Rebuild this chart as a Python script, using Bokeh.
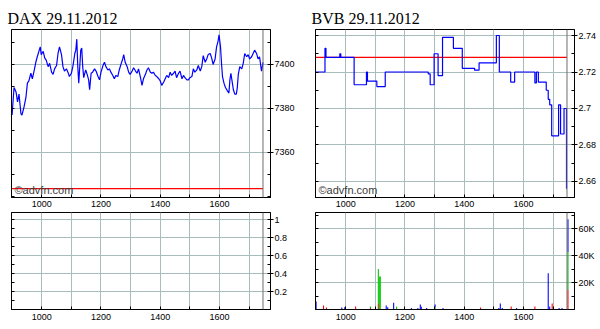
from bokeh.plotting import figure
from bokeh.layouts import column, row
from bokeh.models import (FixedTicker, LinearAxis, Span, Label,
                          CustomJSTickFormatter, Range1d, ColumnDataSource)
from bokeh.embed import file_html
from bokeh.resources import INLINE

# ---------------- data ----------------
dax_title = "DAX 29.11.2012"
bvb_title = "BVB 29.11.2012"

dax_times = ["9:00", "9:02", "9:04", "9:08", "9:11", "9:14", "9:18", "9:20", "9:24", "9:28",
             "9:31", "9:34", "9:38", "9:41", "9:45", "9:48", "9:51", "9:55", "9:57", "9:59",
             "10:03", "10:06", "10:09", "10:13", "10:16", "10:20", "10:23", "10:26", "10:30", "10:33",
             "10:36", "10:40", "10:43", "10:46", "10:50", "10:53", "10:56", "11:00", "11:03", "11:07",
             "11:09", "11:11", "11:13", "11:15", "11:19", "11:21", "11:23", "11:25", "11:29", "11:32",
             "11:35", "11:37", "11:40", "11:43", "11:47", "11:50", "11:54", "11:57", "12:00", "12:04",
             "12:07", "12:10", "12:14", "12:17", "12:20", "12:24", "12:27", "12:30", "12:34", "12:37",
             "12:41", "12:44", "12:46", "12:49", "12:53", "12:56", "12:59", "13:03", "13:06", "13:10",
             "13:13", "13:16", "13:20", "13:23", "13:26", "13:30", "13:33", "13:36", "13:40", "13:43",
             "13:46", "13:50", "13:53", "13:57", "14:00", "14:03", "14:07", "14:10", "14:13", "14:17",
             "14:20", "14:23", "14:27", "14:30", "14:33", "14:37", "14:40", "14:44", "14:47", "14:50",
             "14:54", "14:57", "15:00", "15:04", "15:07", "15:10", "15:14", "15:17", "15:21", "15:24",
             "15:27", "15:31", "15:34", "15:37", "15:41", "15:44", "15:47", "15:51", "15:54", "15:57",
             "15:59", "16:02", "16:04", "16:06", "16:09", "16:12", "16:16", "16:19", "16:21", "16:23",
             "16:26", "16:28", "16:31", "16:34", "16:36", "16:38", "16:41", "16:45", "16:48", "16:51",
             "16:55", "16:58", "17:01", "17:05", "17:08", "17:11", "17:15", "17:18", "17:21", "17:25",
             "17:27", "17:28"]
dax_prices = [7377.0, 7383.5, 7389.5, 7387.5, 7383.0, 7386.5, 7377.5, 7377.0, 7380.5, 7385.0,
              7391.5, 7392.5, 7396.0, 7393.5, 7397.5, 7401.0, 7403.5, 7406.5, 7408.0, 7404.5,
              7406.0, 7403.0, 7402.0, 7399.0, 7400.5, 7396.5, 7395.5, 7398.0, 7399.5, 7405.0,
              7408.0, 7404.5, 7399.0, 7397.0, 7398.0, 7396.5, 7394.5, 7396.0, 7399.0, 7405.0,
              7406.5, 7411.5, 7399.0, 7391.5, 7406.5, 7407.5, 7399.0, 7394.0, 7397.5, 7395.5,
              7393.0, 7388.5, 7396.0, 7396.5, 7398.0, 7397.0, 7394.5, 7393.0, 7396.5, 7399.5,
              7401.0, 7399.0, 7397.5, 7398.0, 7396.5, 7395.0, 7393.5, 7395.0, 7394.5, 7397.5,
              7400.5, 7402.5, 7404.5, 7401.0, 7399.0, 7396.5, 7395.5, 7397.0, 7398.5, 7397.0,
              7396.0, 7398.0, 7394.0, 7390.5, 7393.5, 7395.5, 7397.5, 7398.5, 7396.5, 7396.0,
              7396.5, 7395.0, 7394.5, 7393.5, 7392.5, 7390.5, 7392.0, 7393.5, 7395.0, 7394.0,
              7396.5, 7395.0, 7396.0, 7397.0, 7394.0, 7396.0, 7397.0, 7393.5, 7395.0, 7394.0,
              7393.0, 7393.0, 7394.0, 7394.5, 7398.0, 7396.5, 7397.5, 7399.5, 7397.0, 7399.0,
              7404.0, 7401.0, 7402.5, 7404.5, 7405.0, 7403.0, 7400.0, 7402.5, 7408.0, 7410.5,
              7413.5, 7408.0, 7400.5, 7394.5, 7391.5, 7389.5, 7388.0, 7387.0, 7393.0, 7396.0,
              7391.5, 7388.5, 7386.5, 7386.5, 7389.5, 7395.5, 7399.0, 7398.0, 7400.5, 7405.0,
              7403.5, 7404.5, 7402.5, 7403.5, 7405.0, 7406.5, 7405.0, 7402.5, 7403.5, 7397.0,
              7399.5, 7401.0]
dax_prev_close = 7343.5

bvb_times = ["9:00", "9:18", "9:20", "9:48", "9:50", "10:17", "10:42", "10:44", "11:03", "11:20",
             "12:47", "12:51", "12:59", "13:07", "13:16", "13:38", "13:56", "14:21", "14:30", "15:05",
             "15:11", "15:34", "15:42", "16:23", "16:26", "16:30", "16:46", "16:50", "16:53", "16:57",
             "17:11", "17:15", "17:22", "17:27"]
bvb_prices = [2.720, 2.733, 2.728, 2.730, 2.728, 2.713, 2.720, 2.715, 2.712, 2.720,
              2.719, 2.713, 2.730, 2.718, 2.739, 2.733, 2.722, 2.721, 2.725, 2.740,
              2.720, 2.7145, 2.720, 2.714, 2.720, 2.7145, 2.710, 2.705, 2.702, 2.685,
              2.702, 2.686, 2.700, 2.656]
bvb_prev_close = 2.728

vol_times = ["9:00", "9:15", "9:21", "9:52", "9:58", "10:20", "10:50", "11:06", "11:08", "11:10",
             "11:22", "11:25", "11:37", "11:43", "12:13", "12:26", "12:31", "12:33", "12:44", "13:01",
             "13:17", "14:33", "15:10", "15:13", "15:17", "15:35", "15:46", "16:23", "16:50", "16:53",
             "16:58", "17:12", "17:18", "17:30"]
vol_red = [0, 3000, 1500, 0, 0, 2200, 1200, 4700, 0, 0,
           0, 0, 0, 0, 0, 0, 0, 0, 0, 0,
           0, 1500, 0, 0, 0, 2200, 0, 2200, 0, 0,
           4500, 0, 0, 14800]
vol_green = [0, 0, 0, 0, 0, 0, 1000, 25300, 24500, 24500,
             0, 0, 0, 2200, 0, 0, 0, 0, 0, 1500,
             0, 0, 0, 0, 0, 0, 0, 0, 0, 0,
             0, 0, 0, 27900]
vol_blue = [6000, 0, 0, 1500, 1700, 0, 0, 0, 0, 0,
            3000, 1700, 5000, 0, 1200, 1200, 3700, 2000, 1200, 2200,
            1200, 0, 1200, 4500, 1200, 0, 1200, 0, 27000, 2200,
            0, 1200, 1200, 24200]

session_open = "9:00"
session_close = "17:28"
hour_labels = [10, 12, 14, 16]
hour_between = [11, 13, 15, 17]
dax_ticks = [7360, 7380, 7400]
dax_minor = [7340, 7350, 7360, 7370, 7380, 7390, 7400, 7410]
bvb_ticks = [2.66, 2.68, 2.70, 2.72, 2.74]
bvb_minor = [2.65, 2.66, 2.67, 2.68, 2.69, 2.70, 2.71, 2.72, 2.73, 2.74]
low_ticks = [0.2, 0.4, 0.6, 0.8, 1.0]
low_minor = [0.1, 0.2, 0.3, 0.4, 0.5, 0.6, 0.7, 0.8, 0.9, 1.0]
vol_ticks = [20000, 40000, 60000]
vol_minor = [10000, 20000, 30000, 40000, 50000, 60000, 70000]


def hours(t):
    h, m = t.split(":")
    return int(h) + int(m) / 60.0


# ---------------- styling helpers ----------------
GRID = "#a9bcbc"
AXF = "Liberation Sans"
X_START, X_END = 8.98, 17.72


def make_fig(width, height, yr, bl, br, bt, bb, majors, minors, yfmt, title=None):
    kw = dict(width=width, height=height,
              x_range=Range1d(X_START, X_END), y_range=Range1d(*yr),
              output_backend="svg", toolbar_location=None,
              y_axis_location="right",
              min_border_left=bl, min_border_right=br,
              min_border_top=bt, min_border_bottom=bb)
    if title:
        kw["title"] = title
    p = figure(**kw)
    p.background_fill_color = "white"
    p.border_fill_color = "white"
    p.outline_line_color = "black"
    p.outline_line_width = 1
    if title:
        p.title.text_font = "Liberation Serif"
        p.title.text_font_size = "16px"
        p.title.text_font_style = "normal"
        p.title.text_color = "black"
        p.title.offset = -4
        p.title.standoff = 6
    # x axis: labelled even hours, unlabelled odd hours (as minor ticks + minor grid)
    xa = p.xaxis[0]
    xa.ticker = FixedTicker(ticks=hour_labels, minor_ticks=hour_between)
    xa.formatter = CustomJSTickFormatter(code="return String(tick*100);")
    xa.major_tick_in = 3
    xa.major_tick_out = 0
    xa.minor_tick_in = 3
    xa.minor_tick_out = 0
    xa.major_label_standoff = 3
    xa.major_label_text_font = AXF
    xa.major_label_text_font_size = "9px"
    xa.major_label_text_color = "black"
    xa.axis_line_color = "black"
    # right y axis
    ya = p.yaxis[0]
    ya.ticker = FixedTicker(ticks=majors, minor_ticks=minors)
    ya.formatter = CustomJSTickFormatter(code=yfmt)
    ya.major_tick_in = 0
    ya.major_tick_out = 3
    ya.minor_tick_in = 3
    ya.minor_tick_out = 0
    ya.major_label_standoff = 1
    ya.major_label_text_font = AXF
    ya.major_label_text_font_size = "9px"
    ya.major_label_text_color = "black"
    ya.axis_line_color = "black"
    # left axis with only (unlabelled) minor ticks
    la = LinearAxis(ticker=FixedTicker(ticks=[], minor_ticks=minors),
                    major_tick_line_color=None, minor_tick_in=3, minor_tick_out=0,
                    major_label_standoff=0, axis_line_color="black")
    p.add_layout(la, "left")
    p.xgrid.grid_line_color = GRID
    p.xgrid.minor_grid_line_color = GRID
    p.ygrid.grid_line_color = GRID
    p.add_layout(Span(location=hours(session_close), dimension="height",
                      line_color="#6e6e6e", line_width=1))
    return p


def watermark(p):
    p.add_layout(Label(x=3, y=2, x_units="screen", y_units="screen", text="©advfn.com",
                       text_font=AXF, text_font_size="11px", text_color="#3c3c3c"))


# ---------------- DAX top-left ----------------
p1 = make_fig(300, 211, (7339.5, 7415.9), 11, 30, 29, 14, dax_ticks, dax_minor,
              "return String(tick);", title=dax_title)
p1.line([hours(session_open), hours(session_close)], [dax_prev_close, dax_prev_close],
        line_color="red", line_width=1.3)
p1.line([hours(t) for t in dax_times], dax_prices, line_color="#0000ff", line_width=1.2)
watermark(p1)

# ---------------- BVB top-right ----------------
p2 = make_fig(300, 211, (2.6512, 2.7433), 15, 26, 29, 14, bvb_ticks, bvb_minor,
              "return String(Math.round(tick*100)/100);", title=bvb_title)
p2.line([hours(session_open), hours(session_close)], [bvb_prev_close, bvb_prev_close],
        line_color="red", line_width=1.3)
p2.step([hours(t) for t in bvb_times], bvb_prices, mode="after",
        line_color="#0000ff", line_width=1.2)
watermark(p2)

# ---------------- DAX volume (empty) bottom-left ----------------
p3 = make_fig(300, 118, (0, 1.08), 11, 30, 1, 20, low_ticks, low_minor,
              "return String(Math.round(tick*10)/10);")
p3.xaxis[0].major_label_standoff = 4

# ---------------- BVB volume bottom-right ----------------
p4 = make_fig(300, 118, (0, 72000), 15, 26, 1, 20, vol_ticks, vol_minor,
              "return (tick/1000) + 'K';")
p4.xaxis[0].major_label_standoff = 4
src = ColumnDataSource(dict(t=[hours(t) for t in vol_times], red=vol_red,
                            green=vol_green, blue=vol_blue))
p4.vbar_stack(["red", "green", "blue"], x="t", width=0.036, source=src,
              color=["#ff0000", "#00c800", "#0000ff"], line_color=None)

layout = column(row(p1, p2), row(p3, p4))
open("out.html", "w").write(file_html(layout, INLINE))
